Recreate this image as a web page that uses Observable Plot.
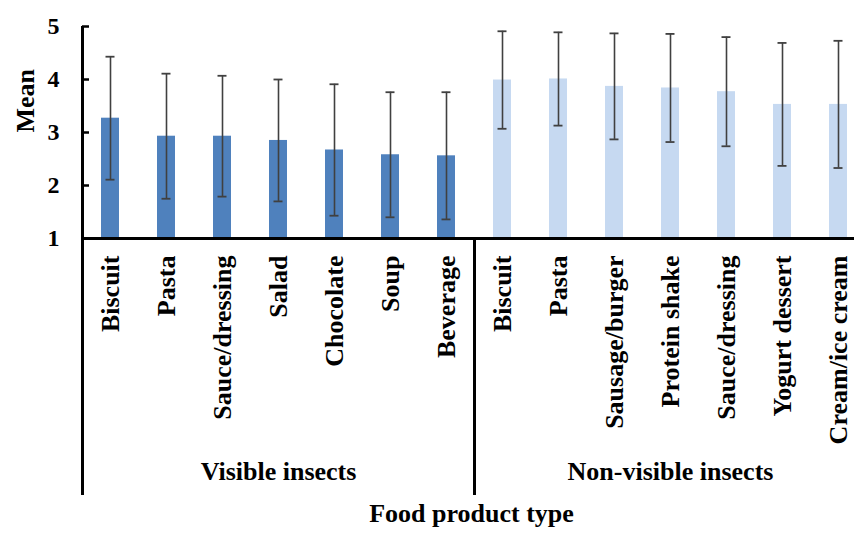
<!DOCTYPE html>
<html><head><meta charset="utf-8">
<script src="https://cdn.jsdelivr.net/npm/d3@7"></script>
<script src="https://cdn.jsdelivr.net/npm/@observablehq/plot@0.6"></script>
<style>body{margin:0;background:#fff;}</style>
</head><body><div id="chart"></div>
<script>
const groups = ["Visible insects", "Non-visible insects"];
const visibleCategories = ["Biscuit","Pasta","Sauce/dressing","Salad","Chocolate","Soup","Beverage"];
const visibleMeans = [3.27,2.93,2.93,2.85,2.67,2.58,2.56];
const visibleSD = [1.16,1.18,1.14,1.15,1.24,1.18,1.20];
const nonVisibleCategories = ["Biscuit","Pasta","Sausage/burger","Protein shake","Sauce/dressing","Yogurt dessert","Cream/ice cream"];
const nonVisibleMeans = [3.99,4.01,3.87,3.84,3.77,3.53,3.53];
const nonVisibleSD = [0.92,0.88,1.00,1.02,1.03,1.16,1.20];
const yTicks = [1,2,3,4,5];
const xTitle = "Food product type";
const yTitle = "Mean";

const rows = [];
visibleCategories.forEach((c,i) => rows.push({key: groups[0] + "|" + c, cat: c, group: groups[0], mean: visibleMeans[i], sd: visibleSD[i]}));
nonVisibleCategories.forEach((c,i) => rows.push({key: groups[1] + "|" + c, cat: c, group: groups[1], mean: nonVisibleMeans[i], sd: nonVisibleSD[i]}));
const keys = rows.map(d => d.key);
const firstKeys = groups.map(g => rows.find(d => d.group === g).key);
const midKeys = groups.map(g => { const r = rows.filter(d => d.group === g); return {key: r[Math.floor(r.length/2)].key, group: g}; });

const font = '"Liberation Serif", "Times New Roman", serif';
const ink = "#404040";

const plot = Plot.plot({
  width: 854, height: 537,
  marginLeft: 82, marginRight: 0, marginTop: 26, marginBottom: 299,
  style: {fontFamily: font, fontWeight: "bold", color: "#000", background: "#fff", overflow: "visible"},
  x: {domain: keys, range: [82, 866], paddingInner: 0.68, paddingOuter: 0.34},
  y: {domain: [1, 5]},
  color: {domain: groups, range: ["#4f81bd", "#c6d9f1"]},
  marks: [
    Plot.barY(rows, {x: "key", y1: 1, y2: "mean", fill: "group"}),
    Plot.ruleX(rows, {x: "key", y1: d => d.mean - d.sd, y2: d => d.mean + d.sd, stroke: ink, strokeWidth: 1.6}),
    Plot.tickY(rows, {x: "key", y: d => d.mean + d.sd, stroke: ink, strokeWidth: 1.8, insetLeft: 4.5, insetRight: 4.5}),
    Plot.tickY(rows, {x: "key", y: d => d.mean - d.sd, stroke: ink, strokeWidth: 1.8, insetLeft: 4.5, insetRight: 4.5}),
    Plot.ruleY([1], {stroke: "#000", strokeWidth: 3}),
    Plot.ruleX([firstKeys[0]], {x: d => d, dx: -28, stroke: "#000", strokeWidth: 3, insetBottom: -257}),
    Plot.ruleX([firstKeys[1]], {x: d => d, dx: -28, stroke: "#000", strokeWidth: 3, insetTop: 212, insetBottom: -257}),
    Plot.axisY({ticks: yTicks, tickSize: -7, tickPadding: 30, fontSize: 24, strokeWidth: 2.5, label: null, tickFormat: d => String(d)}),
    Plot.axisX({tickRotate: -90, tickSize: 0, tickPadding: 17, fontSize: 26, label: null, tickFormat: k => k.split("|")[1]}),
    Plot.text(midKeys, {x: "key", text: "group", frameAnchor: "bottom", dy: 241, fontSize: 26}),
    Plot.text([xTitle], {text: d => d, frameAnchor: "bottom", dx: 3, dy: 283, fontSize: 26}),
    Plot.text([yTitle], {text: d => d, frameAnchor: "left", rotate: -90, dx: -57, fontSize: 26})
  ]
});
document.getElementById("chart").appendChild(plot);
</script>
</body></html>
